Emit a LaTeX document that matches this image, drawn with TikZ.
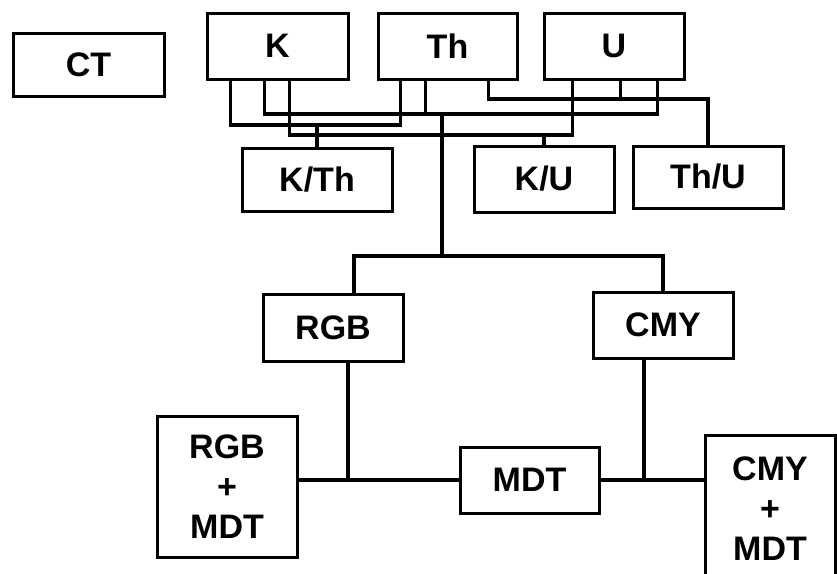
\documentclass[tikz,border=0pt]{standalone}
\usepackage{fontspec}
\setmainfont{Liberation Sans}
\usepackage{tikz}

\begin{document}
\begin{tikzpicture}[x=1pt, y=-1pt, every node/.style={font=\fontsize{34}{40}\selectfont\bfseries, align=center}, box/.style={draw, line width=3pt, inner sep=0pt}, wire/.style={line width=3.4pt}]
		\useasboundingbox (0,0) rectangle (837,573);
		\node[box, minimum width=151pt, minimum height=63pt] (ct)at(88.5,64.5) {CT};
		\node[box, minimum width=141pt, minimum height=66pt] (k)at(277.5,46) {K};
		\node[box, minimum width=139pt, minimum height=66pt] (th)at(447.5,46) {Th};
		\node[box, minimum width=140pt, minimum height=66pt] (u)at(614,46) {U};
		\node[box, minimum width=150pt, minimum height=63pt] (kth)at(317,179.5) {K/Th};
		\node[box, minimum width=140pt, minimum height=66pt] (ku)at(544,179) {K/U};
		\node[box, minimum width=150pt, minimum height=62pt] (thu)at(708,177) {Th/U};
		\node[box, minimum width=140pt, minimum height=67pt] (rgb)at(333,327.5) {RGB};
		\node[box, minimum width=140pt, minimum height=66pt] (cmy)at(663,325) {CMY};
		\node[box, minimum width=140pt, minimum height=141pt] (rgbm)at(227,486.5) {RGB\\+\\MDT};
		\node[box, minimum width=139pt, minimum height=66pt] (mdt)at(529.5,480) {MDT};
		\node[box, minimum width=130pt, minimum height=148pt] (cmym)at(770,509) {CMY\\+\\MDT};
		\coordinate (kthj)at(317,125);
		\coordinate (kuj)at(544,135);
		\coordinate (thuj)at(708,99);
		\coordinate (allj)at(442,114);
		\coordinate (colj)at(442,256);
		\draw[wire] ([xshift=25pt]k.south west) |- (kthj) -| ([xshift=24pt]th.south west);
		\draw[wire] (kthj) -- (kth.north);
		\draw[wire] ([xshift=84pt]k.south west) |- (kuj) -| ([xshift=30pt]u.south west);
		\draw[wire] (kuj) -- (ku.north);
		\draw[wire] ([xshift=112pt]th.south west) |- (thuj) -- (thu.north);
		\draw[wire] ([xshift=78pt]u.south west) -- ([xshift=78pt]u.south west |- thuj);
		\draw[wire] ([xshift=59pt]k.south west) |- (allj) -| ([xshift=115pt]u.south west);
		\draw[wire] ([xshift=49pt]th.south west) -- ([xshift=49pt]th.south west |- allj);
		\draw[wire] (allj) -- (colj);
		\draw[wire] ([xshift=21pt]rgb.north) |- (colj) -| (cmy.north);
		\draw[wire] ([xshift=15pt]rgb.south) -- ([xshift=15pt]rgb.south |- mdt.west);
		\draw[wire] ([xshift=-19pt]cmy.south) -- ([xshift=-19pt]cmy.south |- mdt.east);
		\draw[wire] (rgbm.east |- mdt.west) -- (mdt.west);
		\draw[wire] (mdt.east) -- (cmym.west |- mdt.east);
		\end{tikzpicture}
\end{document}
